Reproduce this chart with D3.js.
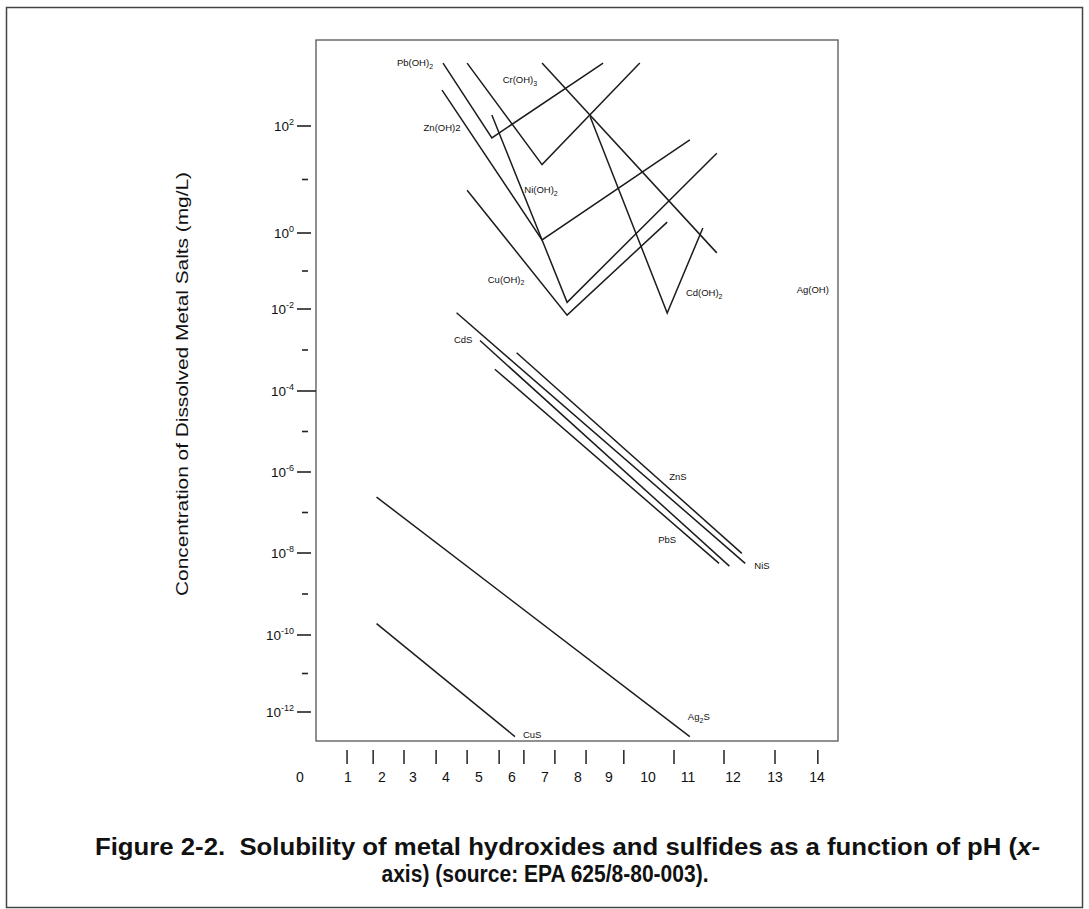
<!DOCTYPE html>
<html>
<head>
<meta charset="utf-8">
<script src="https://cdn.jsdelivr.net/npm/d3@7"></script>
<style>
  body { margin: 0; background: #fff; }
  text { font-family: "Liberation Sans", Arial, sans-serif; fill: #111; }
</style>
</head>
<body>
<script>
// pH labels along the bottom, and where the printed tick marks fall (pH units)
const phLabels = [0, 1, 2, 3, 4, 5, 6, 7, 8, 9, 10, 11, 12, 13, 14];
const phTickMarks = [0.98, 1.74, 2.71, 3.70, 4.64, 5.61, 6.36, 7.30, 8.26, 9.38, 10.65, 11.80, 13.00, 14.02];

// concentration ticks (mg/L)
const concMajor = [1e2, 1e0, 1e-2, 1e-4, 1e-6, 1e-8, 1e-10, 1e-12];
const concMinor = [1e1, 1e-1, 1e-3, 1e-5, 1e-7, 1e-9, 1e-11];

// hydroxide curves, [pH, mg/L]
const hydroxides = [
  { name: "Pb(OH)2", pts: [[3.91, 1.5e3], [5.39, 60], [8.81, 1.5e3]] },
  { name: "Cr(OH)3", pts: [[4.64, 1.5e3], [6.91, 19], [9.79, 1.5e3]] },
  { name: "Zn(OH)2", pts: [[3.88, 470], [6.91, 0.66], [11.04, 55]] },
  { name: "Ni(OH)2", pts: [[5.39, 160], [7.67, 1.5e-2], [11.64, 31]] },
  { name: "Cu(OH)2", pts: [[4.64, 6.3], [7.67, 7.1e-3], [10.48, 1.6]] },
  { name: "Cd(OH)2", pts: [[8.39, 150], [10.48, 8.0e-3], [11.33, 1.24]] },
  { name: "Ag(OH)", pts: [[6.91, 1.5e3], [11.64, 0.30]] }
];

// sulfide lines, [pH, mg/L]
const sulfides = [
  { name: "NiS", pts: [[4.32, 8.1e-3], [12.29, 5.6e-9]] },
  { name: "CdS", pts: [[5.03, 1.7e-3], [11.92, 4.8e-9]] },
  { name: "ZnS", pts: [[6.14, 8.6e-4], [12.21, 9.8e-9]] },
  { name: "PbS", pts: [[5.48, 3.4e-4], [11.69, 5.6e-9]] },
  { name: "Ag2S", pts: [[1.84, 2.4e-7], [11.04, 2.3e-13]] },
  { name: "CuS", pts: [[1.84, 1.9e-10], [6.09, 2.3e-13]] }
];

// label anchors [text, subscript, pH, mg/L, tail]
const labels = [
  ["Pb(OH)", "2", 3.06, 1.5e3],
  ["Cr(OH)", "3", 6.24, 720],
  ["Zn(OH)2", "", 3.88, 92],
  ["Ni(OH)", "2", 6.88, 6.3],
  ["Cu(OH)", "2", 5.82, 5.8e-2],
  ["Cd(OH)", "2", 11.36, 2.6e-2],
  ["Ag(OH)", "", 13.90, 3.2e-2],
  ["CdS", "", 4.52, 1.8e-3],
  ["ZnS", "", 10.75, 7.5e-7],
  ["PbS", "", 10.48, 2.1e-8],
  ["NiS", "", 12.69, 4.8e-9],
  ["Ag", "2", 11.24, 7.4e-13, "S"],
  ["CuS", "", 6.61, 2.5e-13]
];

const width = 1089, height = 909;
const box = { left: 316, top: 40, right: 838, bottom: 741 };

// the scanned axes are uneven, so both scales are piecewise linear
const x = d3.scaleLinear()
  .domain(phLabels)
  .range([300, 348, 382, 413, 446, 479, 512, 545, 578, 609, 648, 688, 733, 775, 817]);
const yExp = d3.scaleLinear()
  .domain(concMajor.map(Math.log10))
  .range([126, 233, 309, 391, 472, 553, 635, 712]);
const y = v => yExp(Math.log10(v));

const svg = d3.select("body").append("svg")
  .attr("width", width)
  .attr("height", height);

// page frame
svg.append("rect")
  .attr("x", 6.5).attr("y", 7.5)
  .attr("width", 1076).attr("height", 900)
  .attr("fill", "none").attr("stroke", "#444").attr("stroke-width", 1.5);

// plot box
svg.append("rect")
  .attr("x", box.left).attr("y", box.top)
  .attr("width", box.right - box.left).attr("height", box.bottom - box.top)
  .attr("fill", "none").attr("stroke", "#555").attr("stroke-width", 1.3);

// y ticks
svg.append("g").selectAll("line")
  .data(concMajor)
  .join("line")
  .attr("x1", 297).attr("x2", d => d === 1e-4 ? box.left : 311)
  .attr("y1", d => y(d)).attr("y2", d => y(d))
  .attr("stroke", "#222").attr("stroke-width", 1.6);

svg.append("g").selectAll("line")
  .data(concMinor)
  .join("line")
  .attr("x1", 302).attr("x2", 308)
  .attr("y1", d => y(d)).attr("y2", d => y(d))
  .attr("stroke", "#222").attr("stroke-width", 1.6);

const ylab = svg.append("g").selectAll("text")
  .data(concMajor)
  .join("text")
  .attr("x", 294)
  .attr("y", d => y(d) + 4.5)
  .attr("text-anchor", "end")
  .style("font-size", "13.5px");
ylab.append("tspan").text("10");
ylab.append("tspan")
  .attr("dy", -5.5)
  .style("font-size", "9px")
  .text(d => Math.round(Math.log10(d)));

svg.append("text")
  .attr("transform", "translate(188,384) rotate(-90)")
  .attr("text-anchor", "middle")
  .attr("textLength", 424)
  .attr("lengthAdjust", "spacingAndGlyphs")
  .style("font-size", "17px")
  .text("Concentration of Dissolved Metal Salts (mg/L)");

// x ticks
svg.append("g").selectAll("line")
  .data(phTickMarks)
  .join("line")
  .attr("x1", d => x(d)).attr("x2", d => x(d))
  .attr("y1", 750).attr("y2", 764)
  .attr("stroke", "#222").attr("stroke-width", 1.5);

svg.append("g").selectAll("text")
  .data(phLabels)
  .join("text")
  .attr("x", d => x(d))
  .attr("y", 782)
  .attr("text-anchor", "middle")
  .style("font-size", "14px")
  .text(d => d);

// curves
const line = d3.line().x(d => x(d[0])).y(d => y(d[1]));

svg.append("g")
  .selectAll("path")
  .data(hydroxides.concat(sulfides))
  .join("path")
  .attr("d", d => line(d.pts))
  .attr("fill", "none")
  .attr("stroke", "#1c1c1c")
  .attr("stroke-width", 1.5)
  .attr("stroke-linejoin", "miter");

// curve labels
const lab = svg.append("g").selectAll("text")
  .data(labels)
  .join("text")
  .attr("x", d => x(d[2]))
  .attr("y", d => y(d[3]) + 3)
  .attr("text-anchor", "middle")
  .style("font-size", "9.5px");
lab.append("tspan").text(d => d[0]);
lab.append("tspan")
  .attr("dy", 2.5)
  .style("font-size", "7px")
  .text(d => d[1]);
lab.filter(d => d[4]).append("tspan")
  .attr("dy", -2.5)
  .text(d => d[4]);

// caption
const cap = svg.append("text")
  .attr("x", 95)
  .attr("y", 855)
  .attr("textLength", 945)
  .attr("lengthAdjust", "spacingAndGlyphs")
  .style("font-size", "23px")
  .style("font-weight", "bold");
cap.append("tspan").text("Figure 2-2.\u00a0 Solubility of metal hydroxides and sulfides as a function of pH (");
cap.append("tspan").style("font-style", "italic").text("x-");

svg.append("text")
  .attr("x", 545)
  .attr("y", 882)
  .attr("text-anchor", "middle")
  .attr("textLength", 327)
  .attr("lengthAdjust", "spacingAndGlyphs")
  .style("font-size", "23px")
  .style("font-weight", "bold")
  .text("axis) (source: EPA 625/8-80-003).");
</script>
</body>
</html>
